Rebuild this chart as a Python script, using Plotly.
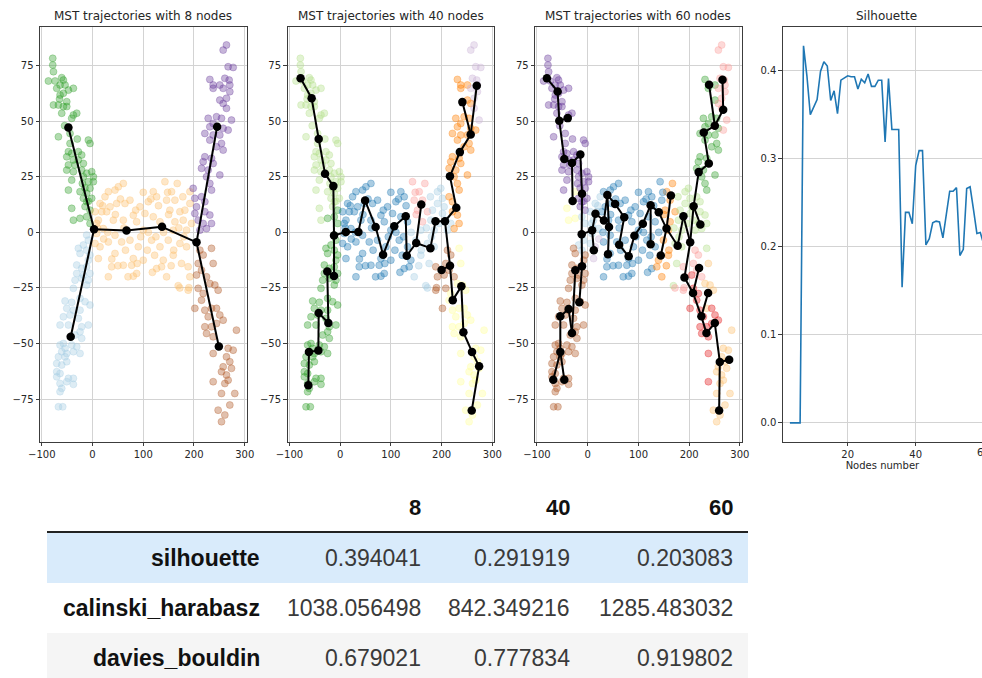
import plotly.graph_objects as go

# ---------------------------------------------------------------------------
# 2-D embedding, one array pair per branch of the "H" shaped trajectory
# ---------------------------------------------------------------------------
upper_left_x = [-78.4, -78.4, -77, -86.9, -73.8, -60.7, -57.4, -63.9, -54.1, -70.5, -47.5, -37.7,
                -63.9, -57.4, -77, -67.2, -50.8, -57.4, -50.8, -60.7, -37.7, -31.1, -41, -67.2,
                -44.3, -8.2, -4.9, -44.3, -47.5, -41, -27.9, -21.3, -50.8, -37.7, -27.9, -47.5,
                -34.4, -18, -50.8, -37.7, -21.3, -11.5, -1.6, 1.7, -41, -18, -8.2, 1.7, -47.5,
                -24.6, -11.5, -4.9, -18, -11.5, -1.6, -41, -14.7, -4.9, -37.7, -24.6, -11.5, -4.9,
                -65, -55, -30, -15, -8, -20]
upper_left_y = [78.3, 75.3, 72.3, 68.1, 68.1, 69.6, 68.5, 66.3, 66.3, 64.8, 64, 64.8,
                61.8, 62.6, 57.3, 57.3, 58.8, 56.6, 56.6, 53.6, 52.8, 53.6, 51.3, 43,
                44.5, 41.5, 40, 40, 36.3, 35.5, 36.3, 34.8, 34, 32.6, 32.6, 30.3,
                30.3, 31, 28, 27.3, 28, 26.6, 27.3, 25, 23.5, 25, 22.8, 22.8, 19,
                18.3, 17.6, 19.8, 15.3, 13.8, 15.3, 10.8, 11.6, 10, 5.5, 6.3, 7, 4,
                60, 48, 42, 20, 14, 22]

lower_left_x = [-11.5, -8.2, -18, -27.9, -24.6, -11.5, -4.9, -8.2, -31.1, -21.3, -11.5, -31.1,
                -18, -4.9, -34.4, -21.3, -8.2, -11.5, -37.7, -54.1, -41, -24.6, -14.7, -4.9,
                -50.8, -37.7, -24.6, -57.4, -44.3, -27.9, -8.2, -64, -47.5, -21.3, -24.6, -34.4,
                -21.3, -64, -57.4, -54.1, -41, -31.1, -60.7, -50.8, -37.7, -24.6, -67.2, -54.1,
                -50.8, -70.5, -60.7, -70.5, -64, -70.5, -47.5, -37.7, -64, -50.8, -60.7, -37.7,
                -64, -67.2, -58.7]
lower_left_y = [-1.2, -3.5, -5.7, -7.2, -9.5, -8, -10.2, -12.5, -14.7, -16.2, -15.5, -18.5,
                -19.2, -18.5, -21.5, -20.7, -21.5, -23.7, -25.2, -30.9, -31.5, -29.7, -31.2, -32.7,
                -34.2, -35, -35, -38, -37.2, -38.7, -41.7, -41.7, -41.7, -42.5, -44.7, -46.2,
                -47.7, -50.7, -50, -52.2, -50.7, -51.5, -53.7, -54.5, -53.7, -54.5, -56, -56,
                -58.2, -59, -59.7, -62.7, -63.5, -65, -65.7, -65.7, -68, -67.2, -70.2, -68.4,
                -71.7, -78.5, -78.5]

middle_x = [60.7, 50.9, 31.2, 44.3, 142.7, 167, 155.8, 191.9, 119.7, 126.3, 73.8, 64, 47.6,
            24.6, 14.8, 34.5, 27.9, 18.1, 93.5, 109.9, 146, 162.4, 152.5, 172.2, 182, 103.3,
            119.7, 80.4, 60.7, 41, 11.5, 87, 132.9, 162.4, 178.8, 21.3, 44.3, 100, 159.1, 185.3,
            8.2, 31.2, 73.8, 57.4, 116.5, 149.3, 172.2, 14.8, 90.2, 132.9, 185.3, 44.3, 80.4,
            122.4, 139.4, 159.1, 37.7, 60.7, 77.1, 126.3, 136.1, 87, 31.2, 146, 80.4, 168.9,
            189.9, 100, 11.5, 8.2, 5, 175.4, 188.5, 191.8, 172, 188.5, 191.9, 195.2,
            20, 30, 45, 55, 65, 85, 95, 110, 115, 125, 140, 150, 160, 170, 180, 5, 10, 38, 70,
            108, 130, 100, 148, 178, 50, 22, 88, 155, 62, 118]
middle_y = [22, 20.5, 18.3, 19, 22.8, 22, 18.3, 18.3, 18.3, 16, 14.5, 13, 13,
            16, 13, 11.5, 9.3, 9.3, 11.5, 13.8, 14.5, 14.5, 10, 9.3, 10, 8.5,
            7, 7.7, 5.5, 5.5, 5.5, 4.75, 4.75, 4.75, 5.5, 1.7, -1.3, 1, 1, 1,
            -0.5, -4.3, -3.5, -4.3, -3.5, -3.5, -5, -6.5, -6.5, -6.5, -6.5, -9.5, -11.8,
            -10.3, -12.5, -10.3, -15.5, -14.8, -14.8, -16.3, -15.5, -18.5, -20, -20, -19.7, -24,
            -24.9, -12.5, -11.8, 4, 9.3, -14, -15.5, -20, -25, -26, 13, 4,
            12, 0, 8, 15, -8, 10, -2, 0, 15, -2, 0, 8, -8, 2, -2, -5, 2, -12, -20,
            -8, 12, 18, 18, 16, -15, -3, -14, -15, 2, -18]

upper_right_x = [264, 257.5, 267.3, 277.2, 231.2, 260.8, 269.3, 237.8, 250.9, 257.5, 270.6, 237.8,
                 270.6, 250.9, 264, 257.5, 264, 228, 244.4, 254.2, 273.9, 237.8, 231.2, 257.5,
                 267.3, 221.4, 237.8, 250.9, 231.2, 254.2, 244.4, 257.5, 221.4, 234.6, 218.1, 237.8,
                 250.9, 228, 214.8, 224.7, 231.2, 234.6, 198.4, 201.7, 214.8, 221.4, 205, 221.4,
                 231.2, 201.7, 208.3, 218.1, 224.7, 211.6, 234.5]
upper_right_y = [84.3, 82, 74.5, 74.2, 68.8, 69.3, 68.5, 66.3, 66.3, 64.8, 66.3, 64.8,
                 63.3, 59.5, 60.3, 58, 55.8, 51.3, 52, 51.3, 50.5, 49, 47.5, 46.8,
                 46, 44.5, 43.8, 43.8, 41.5, 40, 38.5, 37, 34, 33.3, 31.8, 31,
                 25.8, 28, 28.8, 25, 22, 19, 19.8, 15.3, 16, 13.8, 11.5, 9.3,
                 7.8, 8.5, 5.5, 4, 1.7, 1, 4]

lower_right_x = [211.6, 218.1, 234.5, 237.8, 208.3, 214.8, 205, 224.7, 231.2, 241.1, 247.6, 208.3,
                 218.1, 201.7, 214.8, 221.4, 234.5, 244.4, 250.9, 228, 257.5, 221.4, 234.5, 244.4,
                 224.7, 237.8, 283.7, 267.3, 277.2, 237.8, 264, 270.6, 257.5, 273.9, 254.2, 264,
                 237.8, 260.8, 267.3, 280.4, 254.2, 270.6, 247.6, 260.8, 254.2]
lower_right_y = [-8, -10.2, -7.2, -14, -14, -17, -19.2, -20, -23, -23.7, -26, -25.2,
                 -27.5, -34.2, -30.5, -35, -34.2, -34.2, -37.2, -38, -39.5, -42.5, -42.5, -41,
                 -45.5, -47, -44, -52.2, -53, -54.5, -56, -58.2, -60.5, -61.2, -62.7, -64.2,
                 -67.2, -68, -66.5, -72.5, -72.5, -77.7, -80, -82.2, -85.2]

# ---------------------------------------------------------------------------
# MST nodes (centroids), edges and the colour group of each node
# ---------------------------------------------------------------------------
nodes8_x = [-47.5, 3, -43, 67, 137, 205, 245.6, 249]
nodes8_y = [47.2, 1.4, -47, 0.8, 2.5, -4.5, 47.5, -51.4]
edges8 = [(0, 1), (1, 2), (1, 3), (3, 4), (4, 5), (5, 6), (5, 7)]

nodes40_x = [-77.9, -56.1, -42.2, -29.7, -13.3, -12, -12, -25.3, -23.1, -42.2, -42.9, -61.4, -62.7,
             11.3, 36, 49.3, 70, 84.7, 106.7, 129.3, 131.3, 150, 160, 178, 188, 206.7,
             229, 216.5, 236, 257.4, 241, 269.3,
             216.6, 200, 222, 239, 243, 260, 274, 259.4]
nodes40_y = [69.3, 60.3, 42, 26.4, 20.8, -1.4, -19.6, -17.6, -40.8, -36.3, -53.2, -53.8, -68.8,
             0.2, 0.2, 14.3, 2.4, -10.1, 2.7, 7.2, -10.5, -4.8, 12.5, -7.1, 5, 5,
             11.1, 25.2, 36.1, 44, 58.6, 66,
             -15, -16.9, -30.5, -24.3, -45, -53.8, -60.3, -80.2]
groups40 = [2, 2, 2, 2, 2, 3, 3, 3, 3, 3, 3, 3, 3,
            1, 1, 1, 1, 1, 1, 1, 1, 0, 4, 0, 0, 0,
            7, 7, 7, 7, 7, 8,
            11, 11, 10, 10, 10, 10, 10, 10]
edges40 = [(0, 1), (1, 2), (2, 3), (3, 4), (4, 5), (5, 6), (6, 7), (7, 8), (8, 9), (9, 10),
           (10, 11), (11, 12), (5, 13), (13, 14), (14, 15), (15, 16), (16, 17), (17, 18),
           (18, 19), (19, 20), (20, 21), (21, 22), (21, 23), (23, 24), (24, 25), (25, 26),
           (26, 27), (27, 28), (28, 29), (29, 30), (29, 31), (25, 32), (32, 33), (32, 34),
           (34, 35), (35, 36), (36, 37), (37, 38), (38, 39)]

nodes60_x = [-80.4, -59.3, -56, -39.3, -46.1, -31, -29.7, -14.5, -11.2, -11.9, -11.2, -24.4,
             -16.5, -31, -37.6, -54, -54, -67.9, -46.1,
             8.7, 15.3, 12, 32, 38.7, 42, 40, 54, 72, 62, 80.7, 92, 108.7, 124, 124, 140, 144,
             155.3, 164, 177.3, 188.7, 202, 208.7, 222,
             218.7, 238.7, 228.7, 250.5, 267, 265.7, 239.3,
             190.7, 207.6, 219.5, 224, 237.3, 234, 250.5, 260.4, 278.8, 259]
nodes60_y = [69.3, 63.4, 50.2, 51.4, 33, 31.2, 14.1, 35, 17.4, -0.9, -15.3, -17.1,
             -31.5, -45.3, -34.5, -37.8, -53.8, -66.3, -66.3,
             0.9, 8.4, -8.1, 5.3, 16.8, 2.4, -9.8, 12.8, 6.8, -5.6, -10.8, -1.5, 3.9, 12.2, -5.3,
             9, -10.4, 1.7, 16.6, -6, 7.2, -4.5, 11.7, 3.5,
             27.1, 31, 44.9, 48, 55.2, 68.7, 66.4,
             -20.3, -27.3, -16, -37.8, -27.3, -45.3, -40.8, -58.3, -57.3, -80.2]
groups60 = [9, 9, 9, 9, 9, 9, 10, 9, 9, 0, 11, 11, 11, 11, 11, 11, 11, 11, 11,
            0, 0, 8, 1, 1, 1, 1, 1, 1, 1, 1, 1, 1, 1, 1, 1, 7, 7, 7, 2, 2, 4, 2, 2,
            3, 3, 3, 3, 4, 4, 3,
            4, 5, 4, 5, 6, 5, 5, 6, 6, 6]
edges60 = [(0, 1), (1, 2), (2, 3), (2, 4), (4, 5), (5, 6), (5, 7), (7, 8), (8, 9), (9, 10),
           (10, 12), (10, 11), (11, 13), (13, 14), (14, 15), (15, 16), (16, 17), (16, 18),
           (9, 19), (19, 20), (19, 21), (20, 22), (22, 23), (23, 24), (24, 25), (23, 26),
           (26, 27), (27, 28), (28, 29), (29, 30), (30, 31), (31, 32), (32, 33), (32, 34),
           (34, 36), (35, 36), (36, 37), (36, 38), (38, 39), (39, 40), (40, 41), (41, 42),
           (41, 43), (43, 44), (44, 45), (45, 46), (46, 47), (47, 48), (46, 49),
           (40, 50), (50, 51), (51, 52), (51, 53), (53, 54), (53, 55), (55, 56), (56, 57),
           (57, 58), (57, 59)]

# silhouette score against the number of nodes
nodes_number = [3, 4, 5, 6, 7, 8, 9, 10, 11, 12, 13, 14, 15, 16, 17, 18, 19, 20, 21, 22, 23, 24,
                25, 26, 27, 28, 29, 30, 31, 32, 33, 34, 35, 36, 37, 38, 39, 40, 41, 42, 43, 44,
                45, 46, 47, 48, 49, 50, 51, 52, 53, 54, 55, 56, 57, 58, 59, 60]
silhouette_curve = [0.0, 0.0, 0.0, 0.0, 0.428, 0.394, 0.350, 0.358, 0.367, 0.399, 0.410, 0.405,
                    0.366, 0.377, 0.351, 0.389, 0.392, 0.394, 0.393, 0.393, 0.379, 0.390, 0.386,
                    0.396, 0.382, 0.382, 0.389, 0.389, 0.319, 0.391, 0.333, 0.333, 0.333, 0.154,
                    0.239, 0.239, 0.226, 0.292, 0.309, 0.309, 0.202, 0.209, 0.227, 0.229, 0.228,
                    0.210, 0.234, 0.263, 0.263, 0.267, 0.190, 0.197, 0.266, 0.268, 0.242, 0.215,
                    0.216, 0.203]

# summary table
metric_names = ["silhouette", "calinski_harabasz", "davies_bouldin"]
table_columns = [8, 40, 60]
silhouette_row = [0.394041, 0.291919, 0.203083]
calinski_row = [1038.056498, 842.349216, 1285.483032]
davies_row = [0.679021, 0.777834, 0.919802]

# ---------------------------------------------------------------------------
PAIRED = ["#a6cee3", "#1f78b4", "#b2df8a", "#33a02c", "#fb9a99", "#e31a1c",
          "#fdbf6f", "#ff7f00", "#cab2d6", "#6a3d9a", "#ffff99", "#b15928"]
ALPHA = 0.38
W, H = 982, 678


def rgba(hexcol, a):
    h = hexcol.lstrip("#")
    return f"rgba({int(h[0:2], 16)},{int(h[2:4], 16)},{int(h[4:6], 16)},{a})"


branches = [(upper_left_x, upper_left_y, 3), (lower_left_x, lower_left_y, 0),
            (middle_x, middle_y, 6), (upper_right_x, upper_right_y, 9),
            (lower_right_x, lower_right_y, 11)]
pts_x = [v for bx, _, _ in branches for v in bx]
pts_y = [v for _, by, _ in branches for v in by]
branch_group = [g for bx, _, g in branches for _ in bx]


def nearest_group(nx, ny, groups):
    out = []
    for px, py in zip(pts_x, pts_y):
        best = min(range(len(nx)), key=lambda i: (nx[i] - px) ** 2 + (ny[i] - py) ** 2)
        out.append(groups[best])
    return out


panel_groups = [branch_group,
                nearest_group(nodes40_x, nodes40_y, groups40),
                nearest_group(nodes60_x, nodes60_y, groups60)]
panel_nodes = [(nodes8_x, nodes8_y, edges8), (nodes40_x, nodes40_y, edges40),
               (nodes60_x, nodes60_y, edges60)]
titles = ["MST trajectories with 8 nodes", "MST trajectories with 40 nodes",
          "MST trajectories with 60 nodes"]

# panel geometry in pixels
lefts = [40, 287.6, 535.2, 782.8]
pw = 206.5
top_px, bottom_px = 27, 441.7


def px_x(v):
    return v / W


def px_y(v):
    return 1 - v / H


fig = go.Figure()
AX_FONT = dict(family="DejaVu Sans", size=10, color="#262626")
axis_common = dict(showline=True, linecolor="#3c3c3c", linewidth=1, ticks="outside",
                   ticklen=3.5, tickwidth=1, tickcolor="#3c3c3c", showgrid=True,
                   gridcolor="#d3d3d3", gridwidth=1, zeroline=False, tickfont=AX_FONT,
                   automargin=False)

annotations = []
for k in range(3):
    xa = "x" if k == 0 else f"x{k + 1}"
    ya = "y" if k == 0 else f"y{k + 1}"
    cols = [rgba(PAIRED[g], ALPHA) for g in panel_groups[k]]
    fig.add_trace(go.Scatter(x=pts_x, y=pts_y, mode="markers", xaxis=xa, yaxis=ya,
                             marker=dict(size=7, color=cols, line=dict(width=0.8, color=cols)),
                             showlegend=False, hoverinfo="skip"))
    nx, ny, ed = panel_nodes[k]
    ex, ey = [], []
    for a, b in ed:
        ex += [nx[a], nx[b], None]
        ey += [ny[a], ny[b], None]
    fig.add_trace(go.Scatter(x=ex, y=ey, mode="lines", xaxis=xa, yaxis=ya,
                             line=dict(color="black", width=2), showlegend=False,
                             hoverinfo="skip"))
    fig.add_trace(go.Scatter(x=nx, y=ny, mode="markers", xaxis=xa, yaxis=ya,
                             marker=dict(size=8.5, color="black"), showlegend=False))
    key = "" if k == 0 else str(k + 1)
    fig.layout["xaxis" + key] = dict(axis_common, domain=[px_x(lefts[k]), px_x(lefts[k] + pw)],
                                     range=[-103.5, 303.5], tickvals=[-100, 0, 100, 200, 300],
                                     mirror=True, anchor=ya)
    fig.layout["yaxis" + key] = dict(axis_common, domain=[px_y(bottom_px), px_y(top_px)],
                                     range=[-94.2, 92.4], tickvals=[-75, -50, -25, 0, 25, 50, 75],
                                     mirror=True, anchor=xa)
    annotations.append(dict(text=titles[k], x=px_x(lefts[k] + pw / 2), y=px_y(16.5),
                            xref="paper", yref="paper", showarrow=False, xanchor="center",
                            yanchor="middle", font=dict(family="DejaVu Sans", size=12,
                                                        color="#262626")))

# silhouette panel (its right part runs past the page edge)
fig.add_trace(go.Scatter(x=nodes_number, y=silhouette_curve, mode="lines", xaxis="x4",
                         yaxis="y4", line=dict(color="#1f77b4", width=1.6), showlegend=False))
fig.layout["xaxis4"] = dict(axis_common, domain=[px_x(lefts[3]), 1.0], range=[0.91, 59.5],
                            tickvals=[20, 40, 60], mirror=True, anchor="y4",
                            title=dict(text="Nodes number", standoff=2,
                                       font=dict(family="DejaVu Sans", size=10, color="#262626")))
fig.layout["yaxis4"] = dict(axis_common, domain=[px_y(bottom_px), px_y(top_px)],
                            range=[-0.0214, 0.4494], tickvals=[0, 0.1, 0.2, 0.3, 0.4],
                            tickformat=".1f", mirror=False, anchor="x4")
annotations.append(dict(text="Silhouette", x=px_x(lefts[3] + pw / 2), y=px_y(16.5),
                        xref="paper", yref="paper", showarrow=False, xanchor="center",
                        yanchor="middle",
                        font=dict(family="DejaVu Sans", size=12, color="#262626")))
# tick label of x = 60 sits right on the page edge
annotations.append(dict(text="60", x=px_x(847.7 + 40 * 3.4), y=px_y(452),
                        xref="paper", yref="paper", showarrow=False, xanchor="center",
                        yanchor="middle", font=AX_FONT))

# ---------------------------------------------------------------------------
# summary table drawn with shapes and text
# ---------------------------------------------------------------------------
tbl_left, tbl_right = 47, 748
row_tops = [533, 583, 633, 683]
row_fills = ["#d9ebfb", "#ffffff", "#f5f5f5"]
shapes = []
for i, fill in enumerate(row_fills):
    shapes.append(dict(type="rect", xref="paper", yref="paper", x0=px_x(tbl_left),
                       x1=px_x(tbl_right), y0=px_y(row_tops[i + 1]), y1=px_y(row_tops[i]),
                       fillcolor=fill, line=dict(width=0), layer="below"))
shapes.append(dict(type="line", xref="paper", yref="paper", x0=px_x(tbl_left),
                   x1=px_x(tbl_right), y0=px_y(532), y1=px_y(532),
                   line=dict(color="#222222", width=2)))

TBL = "Liberation Sans, Arial, sans-serif"
label_right = 262
col_right = [423, 572, 735]
header_y = 507
row_centers = [558, 608, 658]
for j, c in enumerate(table_columns):
    annotations.append(dict(text=f"<b>{c}</b>", x=px_x(col_right[j]), y=px_y(header_y),
                            xref="paper", yref="paper", showarrow=False, xanchor="right",
                            yanchor="middle", font=dict(family=TBL, size=22, color="#111111")))
for i, (name, row) in enumerate(zip(metric_names, [silhouette_row, calinski_row, davies_row])):
    annotations.append(dict(text=f"<b>{name}</b>", x=px_x(label_right), y=px_y(row_centers[i]),
                            xref="paper", yref="paper", showarrow=False, xanchor="right",
                            yanchor="middle", font=dict(family=TBL, size=23, color="#111111")))
    for j, v in enumerate(row):
        annotations.append(dict(text=f"{v:.6f}", x=px_x(col_right[j]), y=px_y(row_centers[i]),
                                xref="paper", yref="paper", showarrow=False, xanchor="right",
                                yanchor="middle", font=dict(family=TBL, size=23,
                                                            color="#3a3a3a")))

fig.update_layout(template="none", width=W, height=H,
                  margin=dict(l=0, r=0, t=0, b=0, pad=0, autoexpand=False),
                  paper_bgcolor="white", plot_bgcolor="white", showlegend=False,
                  annotations=annotations, shapes=shapes)
fig.write_html("out.html")
